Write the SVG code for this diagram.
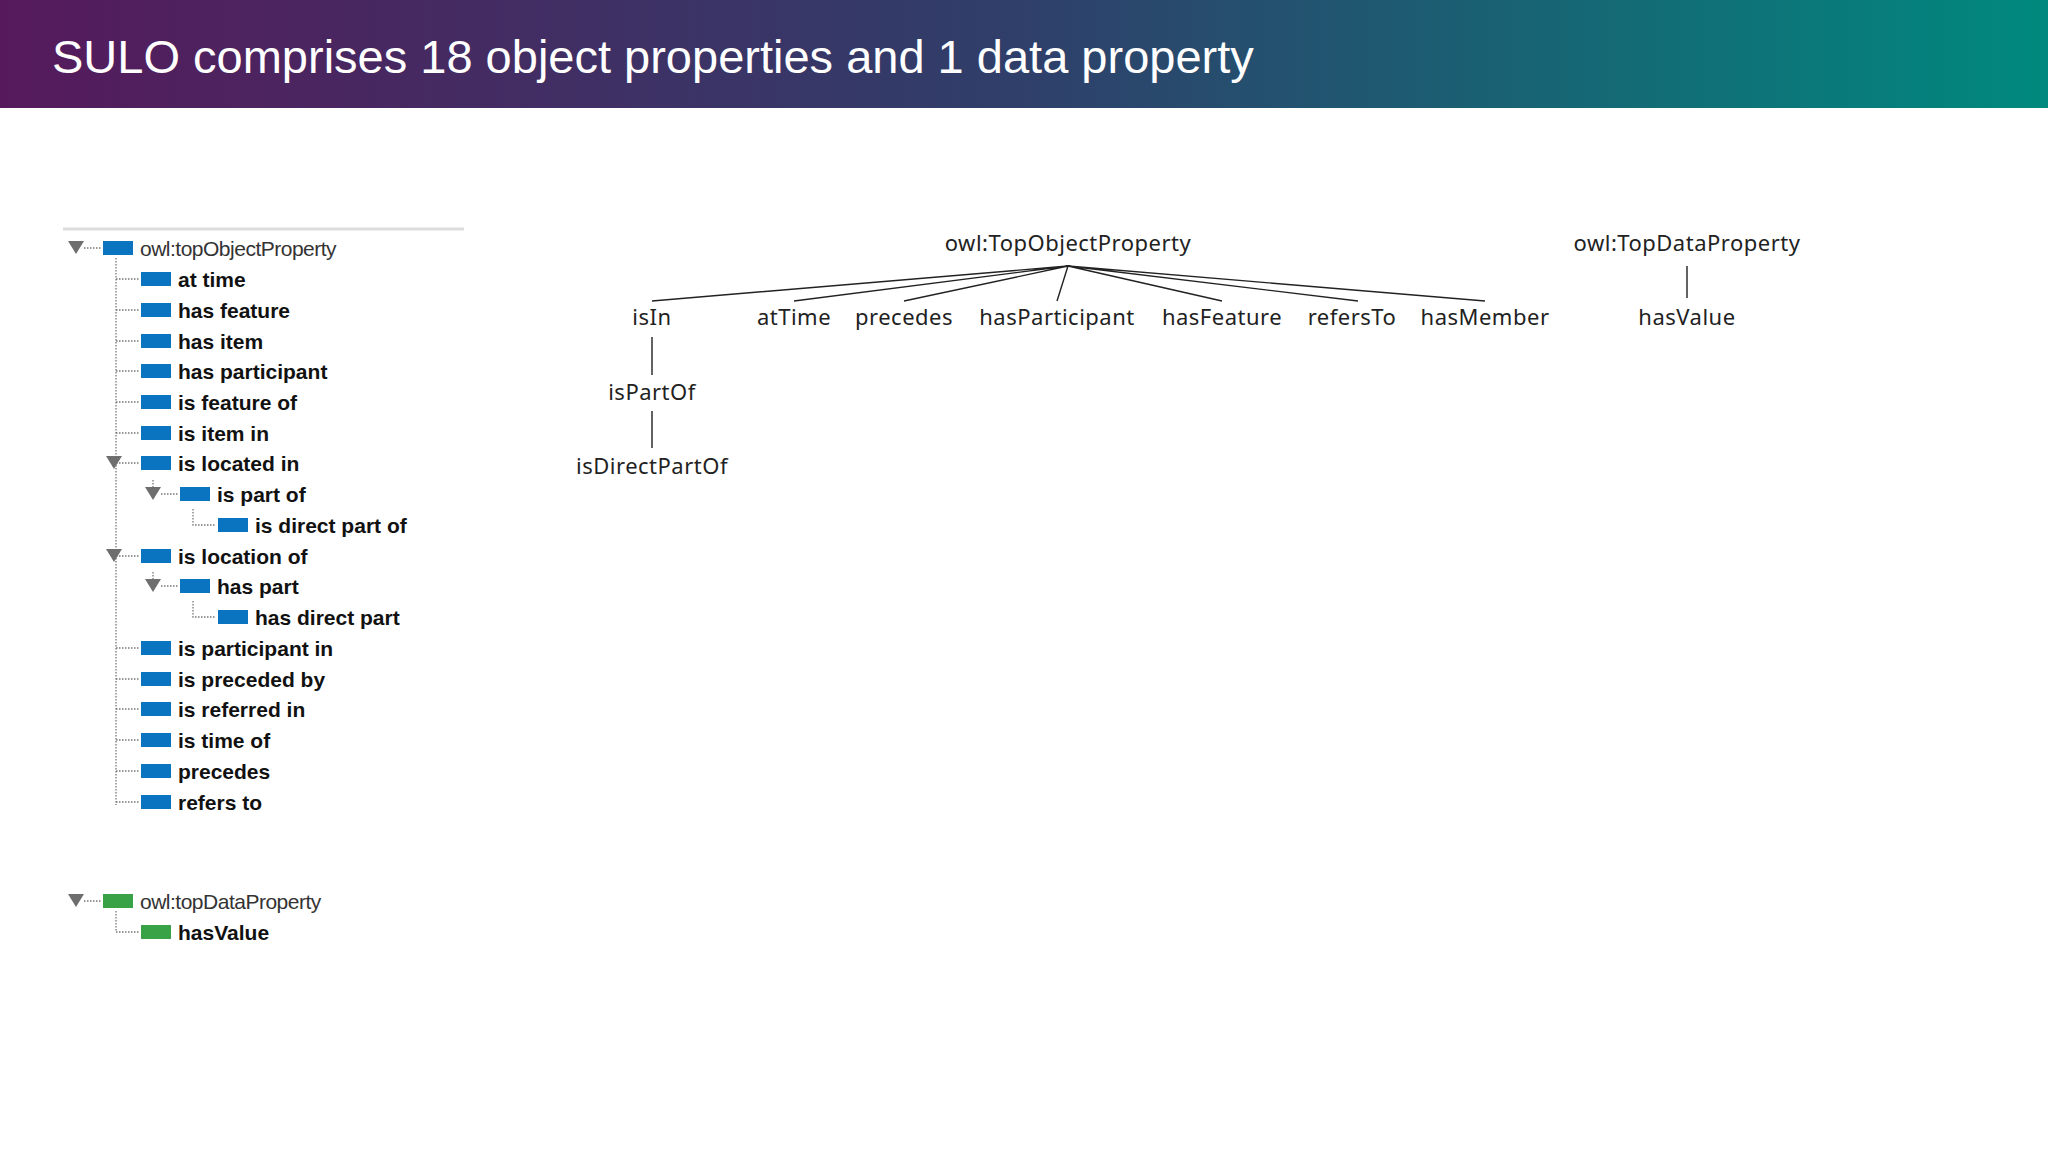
<svg xmlns="http://www.w3.org/2000/svg" width="2048" height="1152" viewBox="0 0 2048 1152">
<defs>
<linearGradient id="hdr" x1="0" y1="0" x2="1" y2="0">
<stop offset="0" stop-color="#561a5c"/><stop offset="0.5" stop-color="#2f3f6a"/><stop offset="1" stop-color="#00897e"/>
</linearGradient>
</defs>
<style>
.t{font-family:"Liberation Sans",Arial,sans-serif;font-size:21px;font-weight:bold;fill:#111}
.r{font-family:"Liberation Sans",Arial,sans-serif;font-size:21px;fill:#333;letter-spacing:-0.5px}
.b{fill:#0a74c0}.g{fill:#3aa246}
.tri{fill:#6e6e6e}
.dot{stroke:#777;stroke-width:1.3;stroke-dasharray:1.5 1.5;fill:none}
.d{font-family:"Noto Sans","DejaVu Sans",sans-serif;font-size:22px;fill:#222;text-anchor:middle;letter-spacing:0.5px}
.ln{stroke:#222;stroke-width:1.4;fill:none}
</style>
<rect width="2048" height="108" fill="url(#hdr)"/>
<text x="52" y="73" font-family="Liberation Sans,Arial,sans-serif" font-size="47" fill="#fff">SULO comprises 18 object properties and 1 data property</text>
<line x1="63" y1="229" x2="464" y2="229" stroke="#ddd" stroke-width="3"/>
<g id="tree">
<g class="dot">
<path d="M84 248H102"/><path d="M116 258V805"/>
<path d="M116 279H140M116 310H140M116 341H140M116 371H140M116 402H140M116 433H140M116 463H140M116 556H140M116 648H140M116 679H140M116 709H140M116 740H140M116 771H140M116 802H140"/>
<path d="M153 480V494M153 572V586"/>
<path d="M161 494H178M161 586H178"/>
<path d="M193 509V525H216M193 601V617H216"/>
<path d="M84 901H102M116 911V932H140"/>
</g>
<g class="tri">
<path d="M68 241h16l-8 13z"/>
<path d="M106 456h16l-8 13z"/><path d="M106 549h16l-8 13z"/>
<path d="M145 487h16l-8 13z"/><path d="M145 579h16l-8 13z"/>
<path d="M68 894h16l-8 13z"/>
</g>
<g id="n0"><rect class="b" x="103" y="241" width="30" height="14"/><text class="r" x="140" y="256">owl:topObjectProperty</text></g>
<g id="n1"><rect class="b" x="141" y="272" width="30" height="14"/><text class="t" x="178" y="287">at time</text></g>
<g id="n2"><rect class="b" x="141" y="303" width="30" height="14"/><text class="t" x="178" y="318">has feature</text></g>
<g id="n3"><rect class="b" x="141" y="334" width="30" height="14"/><text class="t" x="178" y="349">has item</text></g>
<g id="n4"><rect class="b" x="141" y="364" width="30" height="14"/><text class="t" x="178" y="379">has participant</text></g>
<g id="n5"><rect class="b" x="141" y="395" width="30" height="14"/><text class="t" x="178" y="410">is feature of</text></g>
<g id="n6"><rect class="b" x="141" y="426" width="30" height="14"/><text class="t" x="178" y="441">is item in</text></g>
<g id="n7"><rect class="b" x="141" y="456" width="30" height="14"/><text class="t" x="178" y="471">is located in</text></g>
<g id="n8"><rect class="b" x="180" y="487" width="30" height="14"/><text class="t" x="217" y="502">is part of</text></g>
<g id="n9"><rect class="b" x="218" y="518" width="30" height="14"/><text class="t" x="255" y="533">is direct part of</text></g>
<g id="n10"><rect class="b" x="141" y="549" width="30" height="14"/><text class="t" x="178" y="564">is location of</text></g>
<g id="n11"><rect class="b" x="180" y="579" width="30" height="14"/><text class="t" x="217" y="594">has part</text></g>
<g id="n12"><rect class="b" x="218" y="610" width="30" height="14"/><text class="t" x="255" y="625">has direct part</text></g>
<g id="n13"><rect class="b" x="141" y="641" width="30" height="14"/><text class="t" x="178" y="656">is participant in</text></g>
<g id="n14"><rect class="b" x="141" y="672" width="30" height="14"/><text class="t" x="178" y="687">is preceded by</text></g>
<g id="n15"><rect class="b" x="141" y="702" width="30" height="14"/><text class="t" x="178" y="717">is referred in</text></g>
<g id="n16"><rect class="b" x="141" y="733" width="30" height="14"/><text class="t" x="178" y="748">is time of</text></g>
<g id="n17"><rect class="b" x="141" y="764" width="30" height="14"/><text class="t" x="178" y="779">precedes</text></g>
<g id="n18"><rect class="b" x="141" y="795" width="30" height="14"/><text class="t" x="178" y="810">refers to</text></g>
<g id="d0"><rect class="g" x="103" y="894" width="30" height="14"/><text class="r" x="140" y="909">owl:topDataProperty</text></g>
<g id="d1"><rect class="g" x="141" y="925" width="30" height="14"/><text class="t" x="178" y="940">hasValue</text></g>
</g>
<g id="connectors" class="ln">
<path d="M1068 266L652 301M1068 266L794 301M1068 266L904 301M1068 266L1057 301M1068 266L1222 301M1068 266L1358 301M1068 266L1485 301"/>
<path d="M652 337V375M652 411V448M1687 266V298"/>
</g>
<g id="p0"><text class="d" x="1068" y="251">owl:TopObjectProperty</text></g>
<g id="p1"><text class="d" x="1687" y="251">owl:TopDataProperty</text></g>
<g id="p2"><text class="d" x="652" y="325">isIn</text></g>
<g id="p3"><text class="d" x="794" y="325">atTime</text></g>
<g id="p4"><text class="d" x="904" y="325">precedes</text></g>
<g id="p5"><text class="d" x="1057" y="325">hasParticipant</text></g>
<g id="p6"><text class="d" x="1222" y="325">hasFeature</text></g>
<g id="p7"><text class="d" x="1352" y="325">refersTo</text></g>
<g id="p8"><text class="d" x="1485" y="325">hasMember</text></g>
<g id="p9"><text class="d" x="1687" y="325">hasValue</text></g>
<g id="p10"><text class="d" x="652" y="400">isPartOf</text></g>
<g id="p11"><text class="d" x="652" y="474">isDirectPartOf</text></g>
</svg>
